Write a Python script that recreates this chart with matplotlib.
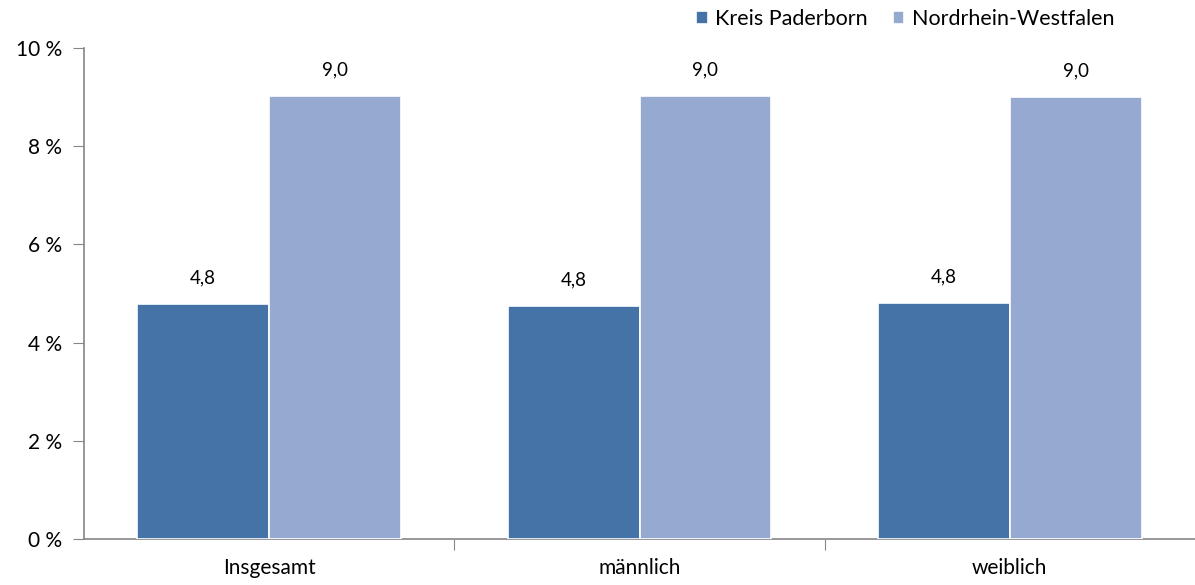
import matplotlib
matplotlib.use("Agg")
import matplotlib.pyplot as plt
import numpy as np

# data
categories = ["Insgesamt", "männlich", "weiblich"]
series_names = ["Kreis Paderborn", "Nordrhein-Westfalen"]
paderborn = [4.78, 4.75, 4.81]
nrw = [9.02, 9.03, 9.01]
yticks = [0, 2, 4, 6, 8, 10]

plt.rcParams['font.family'] = ['Lato', 'DejaVu Sans']

fig = plt.figure(figsize=(11.95, 5.85), dpi=100)
ax = fig.add_axes([0.0703, 0.0786, 0.9297, 0.8393])

x = np.arange(len(categories))
w = 0.356
b1 = ax.bar(x - w / 2, paderborn, w, color="#4572A7", edgecolor="white", linewidth=1.2,
            label=series_names[0], zorder=3)
b2 = ax.bar(x + w / 2, nrw, w, color="#95A9D1", edgecolor="white", linewidth=1.2,
            label=series_names[1], zorder=3)

for bars, vals in [(b1, paderborn), (b2, nrw)]:
    for r, v in zip(bars, vals):
        ax.text(r.get_x() + r.get_width() / 2, v + 0.36, f"{v:.1f}".replace(".", ","),
                ha="center", va="bottom", fontsize=13.5)

ax.set_xlim(-0.5, 2.5)
ax.set_ylim(0, 10)
ax.set_yticks(yticks)
ax.set_yticklabels([f"{t} %" for t in yticks], fontsize=15)
# major ticks are the separators between groups, minor ticks carry the labels
ax.set_xticks([0.5, 1.5])
ax.set_xticklabels([])
ax.set_xticks(x, minor=True)
ax.set_xticklabels(categories, minor=True, fontsize=15)
ax.tick_params(axis="x", which="major", length=8, color="#868686", direction="out")
ax.tick_params(axis="x", which="minor", length=0, pad=14)
ax.tick_params(axis="y", length=8, color="#868686", direction="out", pad=8)

for s in ["top", "right"]:
    ax.spines[s].set_visible(False)
for s in ["left", "bottom"]:
    ax.spines[s].set_color("#868686")
    ax.spines[s].set_linewidth(1.2)

leg = fig.legend(handles=[b1, b2], loc="upper left", bbox_to_anchor=(0.566, 1.018), ncol=2,
                 frameon=False, fontsize=15.5, handlelength=0.55, handleheight=0.55,
                 handletextpad=0.35, columnspacing=1.15)

fig.savefig("out.png", dpi=100)
